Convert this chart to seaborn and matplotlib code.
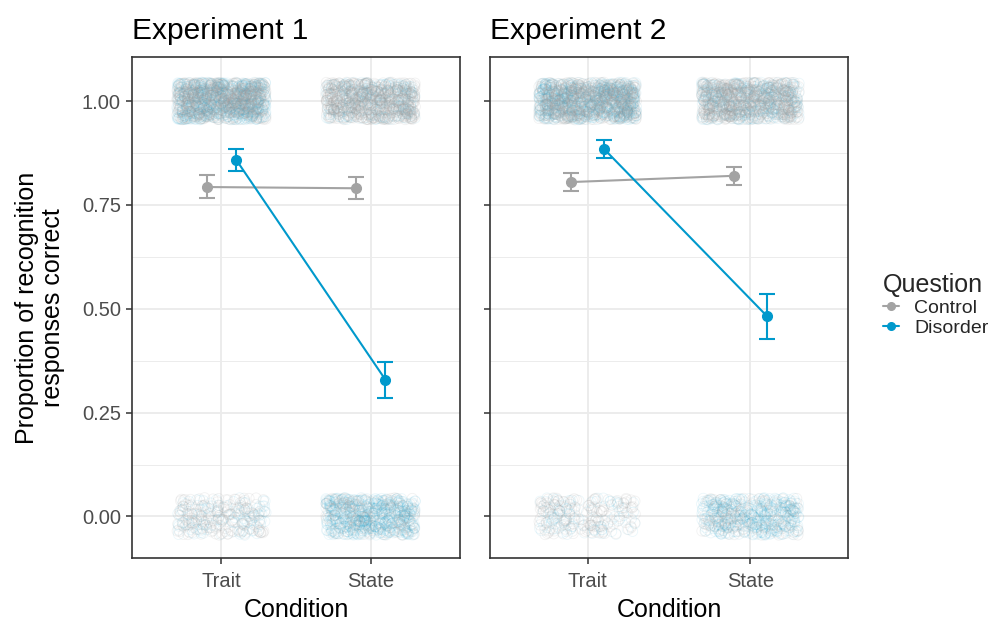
import numpy as np
import pandas as pd
import matplotlib
matplotlib.use("Agg")
import matplotlib.pyplot as plt
import seaborn as sns
from matplotlib.lines import Line2D

# ---------------- data ----------------
experiments = ["Experiment 1", "Experiment 2"]
conditions = ["Trait", "State"]
questions = ["Control", "Disorder"]

exp1_control_mean = [0.793, 0.790]
exp1_control_lo = [0.767, 0.764]
exp1_control_hi = [0.822, 0.817]
exp1_disorder_mean = [0.858, 0.329]
exp1_disorder_lo = [0.832, 0.284]
exp1_disorder_hi = [0.885, 0.373]

exp2_control_mean = [0.805, 0.820]
exp2_control_lo = [0.784, 0.798]
exp2_control_hi = [0.827, 0.841]
exp2_disorder_mean = [0.885, 0.483]
exp2_disorder_lo = [0.863, 0.428]
exp2_disorder_hi = [0.906, 0.536]

n_responses = [800, 800]  # responses per condition x question cell (approx.)

y_ticks = [0.00, 0.25, 0.50, 0.75, 1.00]
y_tick_labels = ["0.00", "0.25", "0.50", "0.75", "1.00"]

# ---------------- tables ----------------
summ = {
    "Experiment 1": {
        "Control": (exp1_control_mean, exp1_control_lo, exp1_control_hi),
        "Disorder": (exp1_disorder_mean, exp1_disorder_lo, exp1_disorder_hi),
    },
    "Experiment 2": {
        "Control": (exp2_control_mean, exp2_control_lo, exp2_control_hi),
        "Disorder": (exp2_disorder_mean, exp2_disorder_lo, exp2_disorder_hi),
    },
}

rows = []
mrows = []
for ei, exp in enumerate(experiments):
    for q in questions:
        m, lo, hi = summ[exp][q]
        for ci, cond in enumerate(conditions):
            n = n_responses[ei]
            k = int(round(m[ci] * n))
            for v in [1] * k + [0] * (n - k):
                rows.append(dict(Experiment=exp, Condition=cond, Question=q,
                                 cidx=ci, correct=v))
            mrows.append(dict(Experiment=exp, Condition=cond, Question=q,
                              cidx=ci, mean=m[ci], lo=lo[ci], hi=hi[ci]))
raw = pd.DataFrame(rows)
means = pd.DataFrame(mrows)

# jitter positions (visual only, like geom_jitter)
rng = np.random.default_rng(7)
raw["xj"] = raw["cidx"] + rng.uniform(-0.3, 0.3, len(raw))
raw["yj"] = raw["correct"] + rng.uniform(-0.045, 0.045, len(raw))

dodge = {"Control": -0.1, "Disorder": 0.1}
means["xd"] = means["cidx"] + means["Question"].map(dodge)

palette = {"Control": "#A3A3A3", "Disorder": "#0099CC"}
cloud_alpha = {"Control": 0.14, "Disorder": 0.08}

# ---------------- style ----------------
sns.set_theme(style="white")
plt.rcParams["font.family"] = ["Liberation Sans", "DejaVu Sans"]

fig = plt.figure(figsize=(9.93, 6.21), dpi=100)
bottom, top = 1 - 558 / 621, 1 - 57 / 621
ax1 = fig.add_axes([132 / 993, bottom, (460 - 132) / 993, top - bottom])
ax2 = fig.add_axes([490 / 993, bottom, (848 - 490) / 993, top - bottom])
axes = [ax1, ax2]

for ai, (ax, exp) in enumerate(zip(axes, experiments)):
    ax.set_axisbelow(True)
    r = raw[raw["Experiment"] == exp]
    for q in ["Disorder", "Control"]:
        rq = r[r["Question"] == q]
        sns.scatterplot(data=rq, x="xj", y="yj", ax=ax, s=55,
                        color=palette[q], linewidth=0.6,
                        alpha=cloud_alpha[q], legend=False, zorder=2)
        coll = ax.collections[-1]
        coll.set_edgecolors(coll.get_facecolors())
        coll.set_facecolors("none")

    mexp = means[means["Experiment"] == exp]
    for q in questions:
        mq = mexp[mexp["Question"] == q]
        sns.lineplot(data=mq, x="xd", y="mean", ax=ax, color=palette[q],
                     lw=1.5, legend=False, zorder=3, estimator=None)
        ax.errorbar(mq["xd"], mq["mean"],
                    yerr=[mq["mean"] - mq["lo"], mq["hi"] - mq["mean"]],
                    fmt="o", color=palette[q], ms=7, elinewidth=1.5,
                    capsize=5.5, capthick=1.5, zorder=4)

    ax.set_xlim(-0.6, 1.6)
    ax.set_ylim(-0.1, 1.106)
    ax.set_xticks([0, 1])
    ax.set_xticklabels(conditions)
    ax.set_yticks(y_ticks)
    ax.set_yticks([0.125, 0.375, 0.625, 0.875], minor=True)
    ax.grid(True, which="major", color="#EBEBEB", lw=1.3)
    ax.grid(True, which="minor", axis="y", color="#EBEBEB", lw=0.65)
    for sp in ax.spines.values():
        sp.set_color("#333333")
        sp.set_linewidth(1.2)
    ax.tick_params(axis="both", which="major", length=4, width=1.1,
                   color="#333333", labelcolor="#4D4D4D", labelsize=14.5,
                   pad=4, bottom=True, left=True)
    ax.tick_params(axis="x", which="major", pad=6)
    ax.tick_params(axis="y", which="minor", length=0)
    ax.set_xlabel("Condition", fontsize=18, color="black", labelpad=5)
    ax.set_title(exp, loc="left", fontsize=21.5, color="black", pad=13)
    if ai == 0:
        ax.set_yticklabels(y_tick_labels)
        ax.set_ylabel("Proportion of recognition\nresponses correct",
                      fontsize=18, color="black", labelpad=12, linespacing=1.1)
    else:
        ax.set_yticklabels([])
        ax.set_ylabel("")

handles = [Line2D([0], [0], color=palette[q], marker="o", ms=5.5, lw=1.5)
           for q in questions]
leg = fig.legend(handles, questions, title="Question", loc="center left",
                 bbox_to_anchor=(883 / 993, 1 - 305 / 621), frameon=False,
                 fontsize=14, title_fontsize=18, handlelength=0.8,
                 handletextpad=0.8, labelspacing=0.1, borderaxespad=0,
                 borderpad=0)
leg._legend_box.align = "left"

fig.savefig("out.png", dpi=100)
